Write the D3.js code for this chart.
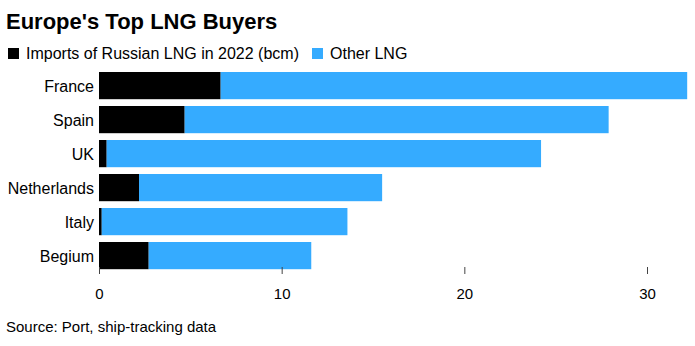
<!DOCTYPE html>
<html>
<head>
<meta charset="utf-8">
<script src="https://cdn.jsdelivr.net/npm/d3@7"></script>
<style>
  body { margin: 0; background: #fff; }
  svg text { font-family: "Liberation Sans", Arial, Helvetica, sans-serif; fill: #000; }
</style>
</head>
<body>
<div id="chart"></div>
<script>
var countries = ['France', 'Spain', 'UK', 'Netherlands', 'Italy', 'Begium'];
var russianLng = [6.66, 4.69, 0.42, 2.19, 0.15, 2.72];
var otherLng = [25.54, 23.21, 23.78, 13.31, 13.45, 8.9];
var xTicks = [0, 10, 20, 30];

var width = 695, height = 346;
var margin = {left: 99, right: 7, top: 72};

var rows = countries.map(function(c, i) {
    return {name: c, russian: russianLng[i], other: otherLng[i]};
});

var svg = d3.select('#chart').append('svg')
    .attr('width', width)
    .attr('height', height);

svg.append('text')
    .attr('x', 6)
    .attr('y', 29)
    .style('font-size', '22px')
    .style('font-weight', 'bold')
    .text("Europe's Top LNG Buyers");

// legend
var legend = [
    {label: 'Imports of Russian LNG in 2022 (bcm)', color: '#000000', x: 8},
    {label: 'Other LNG', color: '#35abff', x: 312}
];
var lg = svg.selectAll('.legend').data(legend).enter().append('g')
    .attr('class', 'legend')
    .attr('transform', function(d) { return 'translate(' + d.x + ',48)'; });
lg.append('rect').attr('width', 11).attr('height', 11).attr('fill', function(d) { return d.color; });
lg.append('text')
    .attr('x', 18)
    .attr('y', 11)
    .style('font-size', '16px')
    .text(function(d) { return d.label; });

var xScale = d3.scaleLinear()
    .domain([0, 30])
    .range([margin.left, 647]);

var yScale = d3.scaleBand()
    .domain(countries)
    .range([margin.top, margin.top + 197.2])
    .paddingInner(0.2)
    .paddingOuter(0);

var stack = d3.stack().keys(['russian', 'other'])(rows);
var colors = {russian: '#000000', other: '#35abff'};

svg.selectAll('.series')
    .data(stack)
    .enter().append('g')
    .attr('class', 'series')
    .attr('fill', function(d) { return colors[d.key]; })
    .selectAll('rect')
    .data(function(d) { return d; })
    .enter().append('rect')
    .attr('x', function(d) { return xScale(d[0]); })
    .attr('y', function(d) { return yScale(d.data.name); })
    .attr('width', function(d) { return xScale(d[1]) - xScale(d[0]); })
    .attr('height', yScale.bandwidth());

// category labels
svg.selectAll('.cat')
    .data(countries)
    .enter().append('text')
    .attr('class', 'cat')
    .attr('x', 94)
    .attr('y', function(d) { return yScale(d) + yScale.bandwidth() / 2 + 6; })
    .attr('text-anchor', 'end')
    .style('font-size', '16px')
    .text(function(d) { return d; });

// x axis
var axis = d3.axisBottom(xScale)
    .tickValues(xTicks)
    .tickSize(7)
    .tickPadding(14)
    .tickFormat(d3.format('d'));

var ax = svg.append('g')
    .attr('transform', 'translate(0,267)')
    .call(axis);
ax.select('.domain').remove();
ax.selectAll('.tick line').attr('stroke', '#444');
ax.selectAll('.tick text')
    .style('font-size', '15px')
    .style('font-family', '"Liberation Sans", Arial, sans-serif')
    .attr('fill', '#000');

svg.append('text')
    .attr('x', 6)
    .attr('y', 332)
    .style('font-size', '15px')
    .text('Source: Port, ship-tracking data');
</script>
</body>
</html>
